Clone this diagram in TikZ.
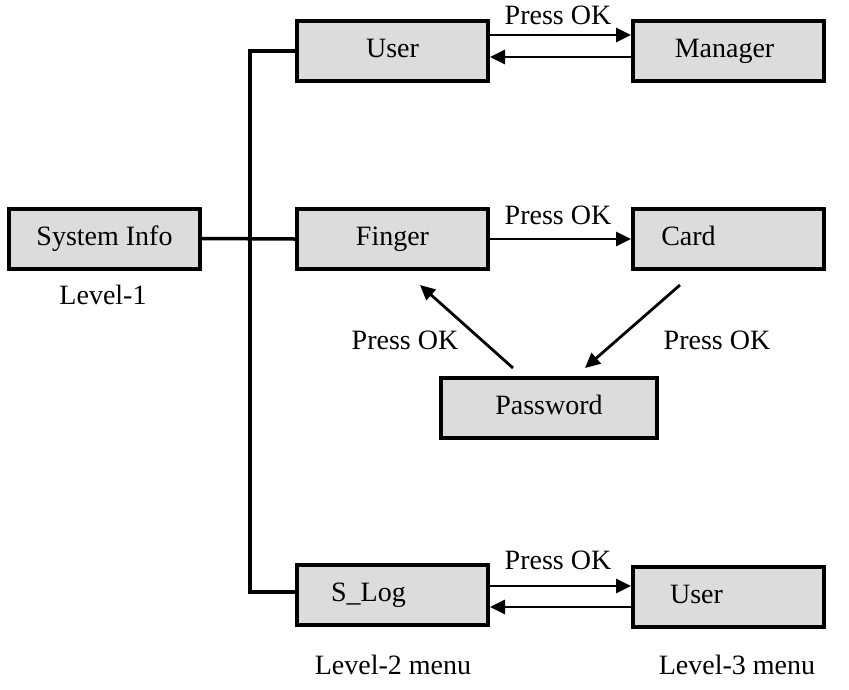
\documentclass[tikz,border=0pt]{standalone}
\usepackage{fontspec}
\setmainfont{Liberation Serif}
\usetikzlibrary{arrows.meta}
\begin{document}
\begin{tikzpicture}[x=1pt,y=-1pt,
  every node/.style={font=\fontsize{28}{30}\selectfont,text height=19pt,text depth=6pt},
  box/.style={draw=black,line width=4pt,fill={rgb,255:red,220;green,220;blue,220},minimum width=191pt,minimum height=60pt,inner sep=0pt},
  conn/.style={line width=3.5pt},
  arr/.style={line width=2.8pt,-{Triangle[length=15pt,width=14pt]}},
  lbl/.style={inner sep=0pt}]
\useasboundingbox (0,0) rectangle (849,689);
\node[box] (sys) at (104.5,238.5) {System Info};
\node[box] (user) at (392.5,51) {User};
\node[box] (mgr) at (728.5,51) {\hspace*{-8pt}Manager};
\node[box] (fing) at (392.5,239) {Finger};
\node[box] (card) at (728.5,239) {\hspace*{-80pt}Card};
\node[box,minimum width=216pt] (pw) at (549,408) {Password};
\node[box] (slog) at (392.5,595) {\hspace*{-48pt}S\_Log};
\node[box] (user3) at (728.5,596.5) {\hspace*{-64pt}User};
\coordinate (vt) at (250,51);
\coordinate (vb) at (250,592);
\draw[conn] (user.west) -- (vt) -- (vb) -- (slog.west |- vb);
\draw[conn] (sys.east) -- (fing.west);
\draw[arr] (user.east |- 0,35) -- (mgr.west |- 0,35);
\draw[arr] (mgr.west |- 0,57) -- (user.east |- 0,57);
\draw[arr] (fing.east) -- (card.west);
\draw[arr] (slog.east |- 0,586) -- (user3.west |- 0,586);
\draw[arr] (user3.west |- 0,607) -- (slog.east |- 0,607);
\coordinate (p1) at (513,368);
\coordinate (f1) at (420,285);
\coordinate (c1) at (680,285);
\coordinate (p2) at (585,368);
\draw[arr] (p1) -- (f1);
\draw[arr] (c1) -- (p2);
\node[lbl] (l1) at (558,18) {Press OK};
\node[lbl] (l2) at (558,218) {Press OK};
\node[lbl] (l3) at (405,343) {Press OK};
\node[lbl] (l4) at (717,343) {Press OK};
\node[lbl] (l5) at (558,563) {Press OK};
\node[lbl] (lv1) at (103,298) {Level-1};
\node[lbl] (lv2) at (393,668) {Level-2 menu};
\node[lbl] (lv3) at (737,668) {Level-3 menu};
\end{tikzpicture}
\end{document}
